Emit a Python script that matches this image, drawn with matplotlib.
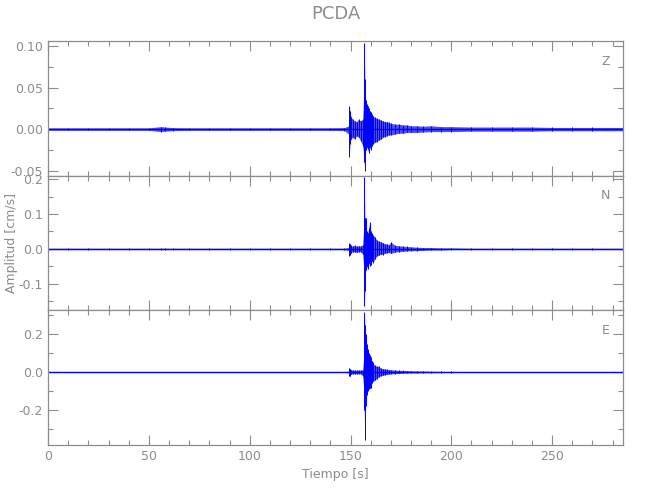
import numpy as np
import matplotlib.pyplot as plt
from matplotlib.ticker import MultipleLocator, FormatStrFormatter

# envelope of each trace (upper / lower peak)
t_env = [0, 10, 20, 30, 40, 50, 56, 58, 62, 70, 80, 90, 100, 110, 120, 130, 140,
         147, 149, 149.4, 149.7, 150.2, 151, 152, 153, 154, 155, 156, 156.5,
         156.8, 157.1, 157.5, 158, 158.5, 159, 159.5, 160, 160.5, 161, 162, 163,
         164, 165, 166, 167, 168, 169, 170, 172, 174, 176, 178, 180, 183, 186,
         190, 195, 200, 210, 220, 230, 240, 250, 260, 270, 285]

z_up = [0.0015, 0.0015, 0.0015, 0.0015, 0.0015, 0.0015, 0.003, 0.0025, 0.0018,
        0.0015, 0.0015, 0.0015, 0.0015, 0.0015, 0.0015, 0.0015, 0.0015,
        0.0018, 0.004, 0.028, 0.022, 0.015, 0.012, 0.010, 0.009, 0.012, 0.010,
        0.012, 0.040, 0.103, 0.060, 0.035, 0.030, 0.028, 0.025, 0.022, 0.021,
        0.018, 0.016, 0.014, 0.013, 0.012, 0.011, 0.010, 0.009, 0.009, 0.008,
        0.007, 0.006, 0.006, 0.005, 0.005, 0.004, 0.004, 0.0035, 0.004, 0.003,
        0.003, 0.0025, 0.0025, 0.0025, 0.0025, 0.002, 0.002, 0.002, 0.002]
z_lo = [-0.0015, -0.0015, -0.0015, -0.0015, -0.0015, -0.0015, -0.003, -0.0025,
        -0.0018, -0.0015, -0.0015, -0.0015, -0.0015, -0.0015, -0.0015, -0.0015,
        -0.0015, -0.0018, -0.006, -0.034, -0.018, -0.012, -0.010, -0.012, -0.008,
        -0.010, -0.014, -0.020, -0.030, -0.040, -0.050, -0.025, -0.022, -0.024,
        -0.029, -0.022, -0.025, -0.020, -0.018, -0.016, -0.015, -0.013, -0.012,
        -0.010, -0.009, -0.008, -0.007, -0.007, -0.006, -0.005, -0.005, -0.004,
        -0.004, -0.004, -0.0035, -0.003, -0.003, -0.003, -0.0025, -0.0025,
        -0.0025, -0.0025, -0.002, -0.002, -0.002, -0.002]

n_up = [0.002] * 18 + [
        0.004, 0.018, 0.014, 0.010, 0.008, 0.010, 0.008, 0.009, 0.008,
        0.012, 0.060, 0.205, 0.090, 0.090, 0.050, 0.045, 0.060, 0.078, 0.050,
        0.045, 0.040, 0.035, 0.025, 0.022, 0.020, 0.018, 0.015, 0.014, 0.012,
        0.020, 0.010, 0.009, 0.008, 0.007, 0.006, 0.005, 0.004, 0.004, 0.003,
        0.003, 0.002, 0.002, 0.002, 0.002, 0.002, 0.002, 0.002, 0.002]
n_lo = [-0.002] * 18 + [
        -0.004, -0.020, -0.016, -0.012, -0.008, -0.009, -0.010, -0.008, -0.008,
        -0.015, -0.050, -0.164, -0.120, -0.060, -0.050, -0.057, -0.040, -0.049,
        -0.045, -0.035, -0.039, -0.030, -0.020, -0.018, -0.015, -0.016, -0.012,
        -0.012, -0.010, -0.013, -0.009, -0.008, -0.007, -0.006, -0.005, -0.005,
        -0.004, -0.003, -0.003, -0.002, -0.002, -0.002, -0.002, -0.002, -0.002,
        -0.002, -0.002, -0.002]

e_up = [0.002] * 18 + [
        0.005, 0.023, 0.018, 0.012, 0.010, 0.010, 0.009, 0.010, 0.010,
        0.012, 0.080, 0.317, 0.250, 0.200, 0.150, 0.120, 0.100, 0.090, 0.080,
        0.060, 0.050, 0.035, 0.030, 0.030, 0.020, 0.018, 0.016, 0.014, 0.012,
        0.012, 0.010, 0.009, 0.008, 0.007, 0.006, 0.005, 0.005, 0.004, 0.003,
        0.003, 0.002, 0.002, 0.002, 0.002, 0.002, 0.002, 0.002, 0.002]
e_lo = [-0.002] * 18 + [
        -0.005, -0.023, -0.020, -0.012, -0.010, -0.010, -0.010, -0.009, -0.010,
        -0.020, -0.080, -0.200, -0.360, -0.180, -0.120, -0.100, -0.090, -0.085,
        -0.086, -0.060, -0.050, -0.044, -0.035, -0.025, -0.020, -0.018, -0.015,
        -0.013, -0.012, -0.010, -0.009, -0.008, -0.007, -0.006, -0.005, -0.005,
        -0.004, -0.004, -0.003, -0.003, -0.002, -0.002, -0.002, -0.002, -0.002,
        -0.002, -0.002, -0.002]

components = ["Z", "N", "E"]
uppers = [z_up, n_up, e_up]
lowers = [z_lo, n_lo, e_lo]
ylims = [(-0.056, 0.106), (-0.176, 0.21), (-0.385, 0.325)]
yticks = [[-0.05, 0.0, 0.05, 0.10], [-0.1, 0.0, 0.1, 0.2], [-0.2, 0.0, 0.2]]
ymajor = [0.05, 0.1, 0.2]
yfmt = ["%.2f", "%.1f", "%.1f"]

gray = "#8c8c8c"
blue = "#0000ff"

plt.rcParams["font.family"] = "DejaVu Sans"

fig, axes = plt.subplots(3, 1, figsize=(6.5, 5), dpi=100, sharex=True)
fig.subplots_adjust(left=0.074, right=0.958, top=0.918, bottom=0.11, hspace=0)

t = np.array(t_env)
for ax, comp, up, lo, yl, yt, ym, fmt in zip(axes, components, uppers, lowers,
                                             ylims, yticks, ymajor, yfmt):
    ax.fill_between(t, lo, up, color=blue, alpha=0.7, lw=0)
    ax.vlines(t, lo, up, color=blue, lw=0.7)
    ax.axhline(0, color=blue, lw=1.0)

    ax.set_xlim(0, 285)
    ax.set_ylim(*yl)
    ax.set_yticks(yt)
    ax.yaxis.set_major_formatter(FormatStrFormatter(fmt))
    ax.yaxis.set_minor_locator(MultipleLocator(ym / 2))
    ax.xaxis.set_major_locator(MultipleLocator(50))
    ax.xaxis.set_minor_locator(MultipleLocator(10))
    ax.tick_params(which="both", direction="in", top=True, right=True,
                   color=gray, labelcolor=gray, labelsize=9, width=0.8)
    ax.tick_params(which="major", length=7)
    ax.tick_params(which="minor", length=3.5)
    for s in ax.spines.values():
        s.set_color(gray)
        s.set_linewidth(0.9)
    ax.text(0.97, 0.85, comp, transform=ax.transAxes, color=gray,
            fontsize=9, ha="center", va="center")

axes[2].set_xlabel("Tiempo [s]", color=gray, fontsize=9)
fig.text(0.018, 0.514, "Amplitud [cm/s]", rotation=90, color=gray,
         fontsize=9, ha="center", va="center")
fig.suptitle("PCDA", color=gray, fontsize=13, x=0.516, y=0.99)

fig.savefig("out.png", dpi=100)
